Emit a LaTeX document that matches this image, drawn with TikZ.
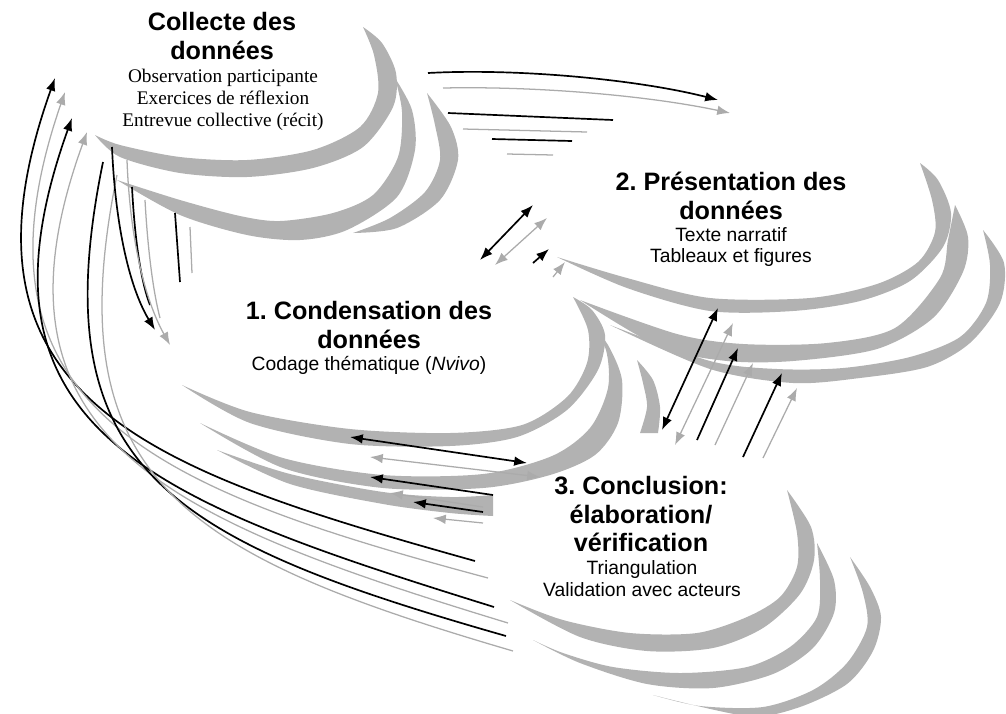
\documentclass[tikz,border=0pt]{standalone}
\usepackage{fontspec}
\setmainfont{Liberation Serif}
\setsansfont{Liberation Sans}
\usetikzlibrary{arrows.meta}
\frenchspacing

\begin{document}
\begin{tikzpicture}[x=0.025cm, y=-0.025cm,
  croissant/.style={fill=black!30, draw=none},
  blk/.style={draw=black, line width=1.2pt},
  gry/.style={draw=black!33, line width=0.9pt},
  fleche/.style={-{Latex[length=3.2mm,width=2.4mm]}},
  fleches/.style={{Latex[length=3.2mm,width=2.4mm]}-{Latex[length=3.2mm,width=2.4mm]}},
  titre/.style={font=\sffamily\bfseries\fontsize{17.9pt}{20.3pt}\selectfont, align=center, inner sep=0pt},
  liste/.style={font=\sffamily\fontsize{13.7pt}{15.6pt}\selectfont, align=center, inner sep=0pt},
  listeserif/.style={font=\rmfamily\fontsize{13.7pt}{15.6pt}\selectfont, align=center, inner sep=0pt}]

\useasboundingbox (0,0) rectangle (1006,713);
\clip (0,0) rectangle (1006,713);

%% Collecte: three crescents
\fill[croissant] plot[smooth] coordinates {(95,135) (120,157) (180,173) (247,177) (313,168) (363,147) (393,107) (396,73) (382,43) (363,27)}
  -- plot[smooth] coordinates {(363,27) (374,55) (378,93) (360,127) (313,150) (247,160) (180,157) (120,145) (95,135)} -- cycle;
\fill[croissant] plot[smooth] coordinates {(117,180) (180,215) (247,235) (300,240) (347,230) (397,197) (415,150) (412,110) (395,78)}
  -- plot[smooth] coordinates {(395,78) (402,112) (398,157) (373,195) (333,213) (280,221) (240,216) (180,200) (117,180)} -- cycle;
\fill[croissant] plot[smooth] coordinates {(353,233) (397,228) (440,200) (458,160) (451,127) (427,93)}
  -- plot[smooth] coordinates {(427,93) (435,125) (440,160) (425,192) (390,218) (353,233)} -- cycle;

%% Presentation: three crescents
\fill[croissant] plot[smooth] coordinates {(557,257) (627,288) (710,311) (793,311) (860,301) (910,281) (943,247) (951,213) (938,180) (920,163)}
  -- plot[smooth] coordinates {(920,163) (932,200) (935,232) (918,262) (877,284) (810,298) (710,298) (627,278) (557,257)} -- cycle;
\fill[croissant] plot[smooth] coordinates {(580,300) (660,347) (727,361) (793,361) (877,349) (933,318) (963,272) (968,237) (955,205)}
  -- plot[smooth] coordinates {(955,205) (948,240) (940,278) (895,328) (827,343) (743,344) (677,334) (580,300)} -- cycle;
\fill[croissant] plot[smooth] coordinates {(610,325) (710,369) (793,383) (860,378) (927,367) (970,343) (1000,303) (1004,263) (983,230)}
  -- plot[smooth] coordinates {(983,230) (990,265) (986,303) (960,337) (910,357) (843,368) (777,369) (710,361) (610,325)} -- cycle;

%% Condensation: crescents
\fill[croissant] plot[smooth] coordinates {(182,385) (250,423) (350,444) (450,446) (517,437) (567,410) (598,370) (605,335) (592,310) (573,297)}
  -- plot[smooth] coordinates {(573,297) (588,330) (587,363) (567,397) (522,425) (450,433) (350,429) (250,412) (182,385)} -- cycle;
\fill[croissant] plot[smooth] coordinates {(200,423) (283,468) (383,488) (483,488) (550,475) (595,455) (618,423) (622,380) (608,345) (590,323)}
  -- plot[smooth] coordinates {(590,323) (606,350) (608,388) (590,428) (552,456) (483,474) (383,475) (283,458) (200,423)} -- cycle;
\fill[croissant] plot[smooth] coordinates {(217,450) (290,484) (383,504) (450,513) (493,516)}
  -- plot[smooth] coordinates {(493,495) (450,497) (383,492) (290,474) (217,450)} -- cycle;
\fill[croissant] plot[smooth] coordinates {(637,360) (653,380) (660,407) (658,433)}
  -- plot[smooth] coordinates {(640,433) (647,407) (643,383) (637,360)} -- cycle;

%% Conclusion: three crescents
\fill[croissant] plot[smooth] coordinates {(510,600) (580,637) (647,651) (713,648) (763,628) (800,594) (814,560) (811,527) (787,490)}
  -- plot[smooth] coordinates {(787,490) (797,533) (797,567) (780,597) (747,617) (697,633) (630,633) (563,620) (510,600)} -- cycle;
\fill[croissant] plot[smooth] coordinates {(533,640) (580,663) (647,684) (713,688) (773,674) (813,648) (834,613) (834,580) (817,543)}
  -- plot[smooth] coordinates {(817,543) (820,580) (817,617) (790,647) (747,667) (680,673) (613,667) (563,653) (533,640)} -- cycle;
\fill[croissant] plot[smooth] coordinates {(653,695) (747,716) (797,708) (847,684) (873,651) (881,617) (870,587) (850,557)}
  -- plot[smooth] coordinates {(850,557) (863,593) (867,627) (847,663) (813,690) (763,707) (700,706) (653,695)} -- cycle;

%% Conclusion -> Collecte, long way round
\coordinate (lA) at (475,561); \coordinate (hA) at (55,78);
\coordinate (lB) at (488,578); \coordinate (hB) at (65,92);
\coordinate (lC) at (494,607); \coordinate (hC) at (72,118);
\coordinate (lD) at (508,623); \coordinate (hD) at (87,132);
\coordinate (lE) at (506,636); \coordinate (hE) at (103,162);
\coordinate (lF) at (513,651); \coordinate (hF) at (117,175);
\draw[blk, fleche] (lA) .. controls (150,470) and (-60,400) .. (hA);
\draw[gry, fleche] (lB) .. controls (160,490) and (-45,410) .. (hB);
\draw[blk, fleche] (lC) .. controls (150,500) and (-40,430) .. (hC);
\draw[gry, fleche] (lD) .. controls (170,520) and (-25,440) .. (hD);
\draw[blk] (lE) .. controls (170,540) and (40,470) .. (hE);
\draw[gry] (lF) .. controls (185,555) and (55,480) .. (hF);

%% Collecte -> Condensation
\coordinate (cA) at (112,147); \coordinate (dA) at (155,330);
\coordinate (cB) at (132,187); \coordinate (dB) at (150,305);
\coordinate (cC) at (127,160); \coordinate (dC) at (170,345);
\coordinate (cD) at (145,200); \coordinate (dD) at (160,318);
\coordinate (cE) at (175,213); \coordinate (dE) at (180,282);
\coordinate (cF) at (190,227); \coordinate (dF) at (192,273);
\draw[blk, fleche] (cA) .. controls (115,220) and (128,285) .. (dA);
\draw[blk] (cB) .. controls (135,245) and (142,285) .. (dB);
\draw[gry, fleche] (cC) .. controls (130,240) and (145,300) .. (dC);
\draw[gry] (cD) .. controls (148,255) and (154,295) .. (dD);
\draw[blk] (cE) -- (dE);
\draw[gry] (cF) -- (dF);

%% Collecte -> Presentation
\coordinate (pA) at (428,73);  \coordinate (qA) at (718,100);
\coordinate (pB) at (443,88);  \coordinate (qB) at (730,113);
\coordinate (pC) at (448,113); \coordinate (qC) at (613,120);
\coordinate (pD) at (463,129); \coordinate (qD) at (587,132);
\coordinate (pE) at (492,139); \coordinate (qE) at (572,141);
\coordinate (pF) at (507,154); \coordinate (qF) at (553,155);
\draw[blk, fleche] (pA) .. controls (520,68) and (640,80) .. (qA);
\draw[gry, fleche] (pB) .. controls (540,86) and (650,96) .. (qB);
\draw[blk] (pC) -- (qC);
\draw[gry] (pD) -- (qD);
\draw[blk] (pE) -- (qE);
\draw[gry] (pF) -- (qF);

%% Condensation <-> Presentation
\coordinate (rA) at (480,260); \coordinate (sA) at (533,205);
\coordinate (rB) at (495,265); \coordinate (sB) at (547,218);
\coordinate (rC) at (533,263); \coordinate (sC) at (549,249);
\coordinate (rD) at (553,277); \coordinate (sD) at (565,262);
\draw[blk, fleches] (rA) -- (sA);
\draw[gry, fleches] (rB) -- (sB);
\draw[blk, fleche] (rC) -- (sC);
\draw[gry, fleche] (rD) -- (sD);

%% Conclusion <-> Presentation
\coordinate (tA) at (662,430); \coordinate (uA) at (718,308);
\coordinate (tB) at (675,445); \coordinate (uB) at (733,323);
\coordinate (tC) at (697,440); \coordinate (uC) at (738,348);
\coordinate (tD) at (715,445); \coordinate (uD) at (753,363);
\coordinate (tE) at (743,457); \coordinate (uE) at (782,373);
\coordinate (tF) at (763,458); \coordinate (uF) at (797,388);
\draw[blk, fleches] (tA) -- (uA);
\draw[gry, fleches] (tB) -- (uB);
\draw[blk, fleche] (tC) -- (uC);
\draw[gry, fleche] (tD) -- (uD);
\draw[blk, fleche] (tE) -- (uE);
\draw[gry, fleche] (tF) -- (uF);

%% Conclusion <-> Condensation
\coordinate (vA) at (527,463); \coordinate (wA) at (350,437);
\coordinate (vB) at (540,477); \coordinate (wB) at (370,457);
\coordinate (vC) at (493,495); \coordinate (wC) at (370,477);
\coordinate (vD) at (483,507); \coordinate (wD) at (390,493);
\coordinate (vE) at (483,512); \coordinate (wE) at (413,502);
\coordinate (vF) at (483,523); \coordinate (wF) at (433,518);
\draw[blk, fleches] (vA) -- (wA);
\draw[gry, fleches] (vB) -- (wB);
\draw[blk, fleche] (vC) -- (wC);
\draw[gry, fleche] (vD) -- (wD);
\draw[blk, fleche] (vE) -- (wE);
\draw[gry, fleche] (vF) -- (wF);

%% texts
\node[titre] (collecte) at (222,36) {Collecte des\\données};
\node[listeserif] (collecteSub) at (223,100) {Observation participante\\Exercices de réflexion\\Entrevue collective (récit)};
\node[titre] (present) at (731,196) {2. Présentation des\\données};
\node[liste] (presentSub) at (731,247) {Texte narratif\\Tableaux et figures};
\node[titre] (condens) at (369,325) {1. Condensation des\\données};
\node[liste] (condensSub) at (369,365) {Codage thématique (\textit{Nvivo})};
\node[titre] (concl) at (641,514) {3. Conclusion:\\élaboration/\\vérification};
\node[liste] (conclSub) at (642,579) {Triangulation\\Validation avec acteurs};

\end{tikzpicture}
\end{document}
